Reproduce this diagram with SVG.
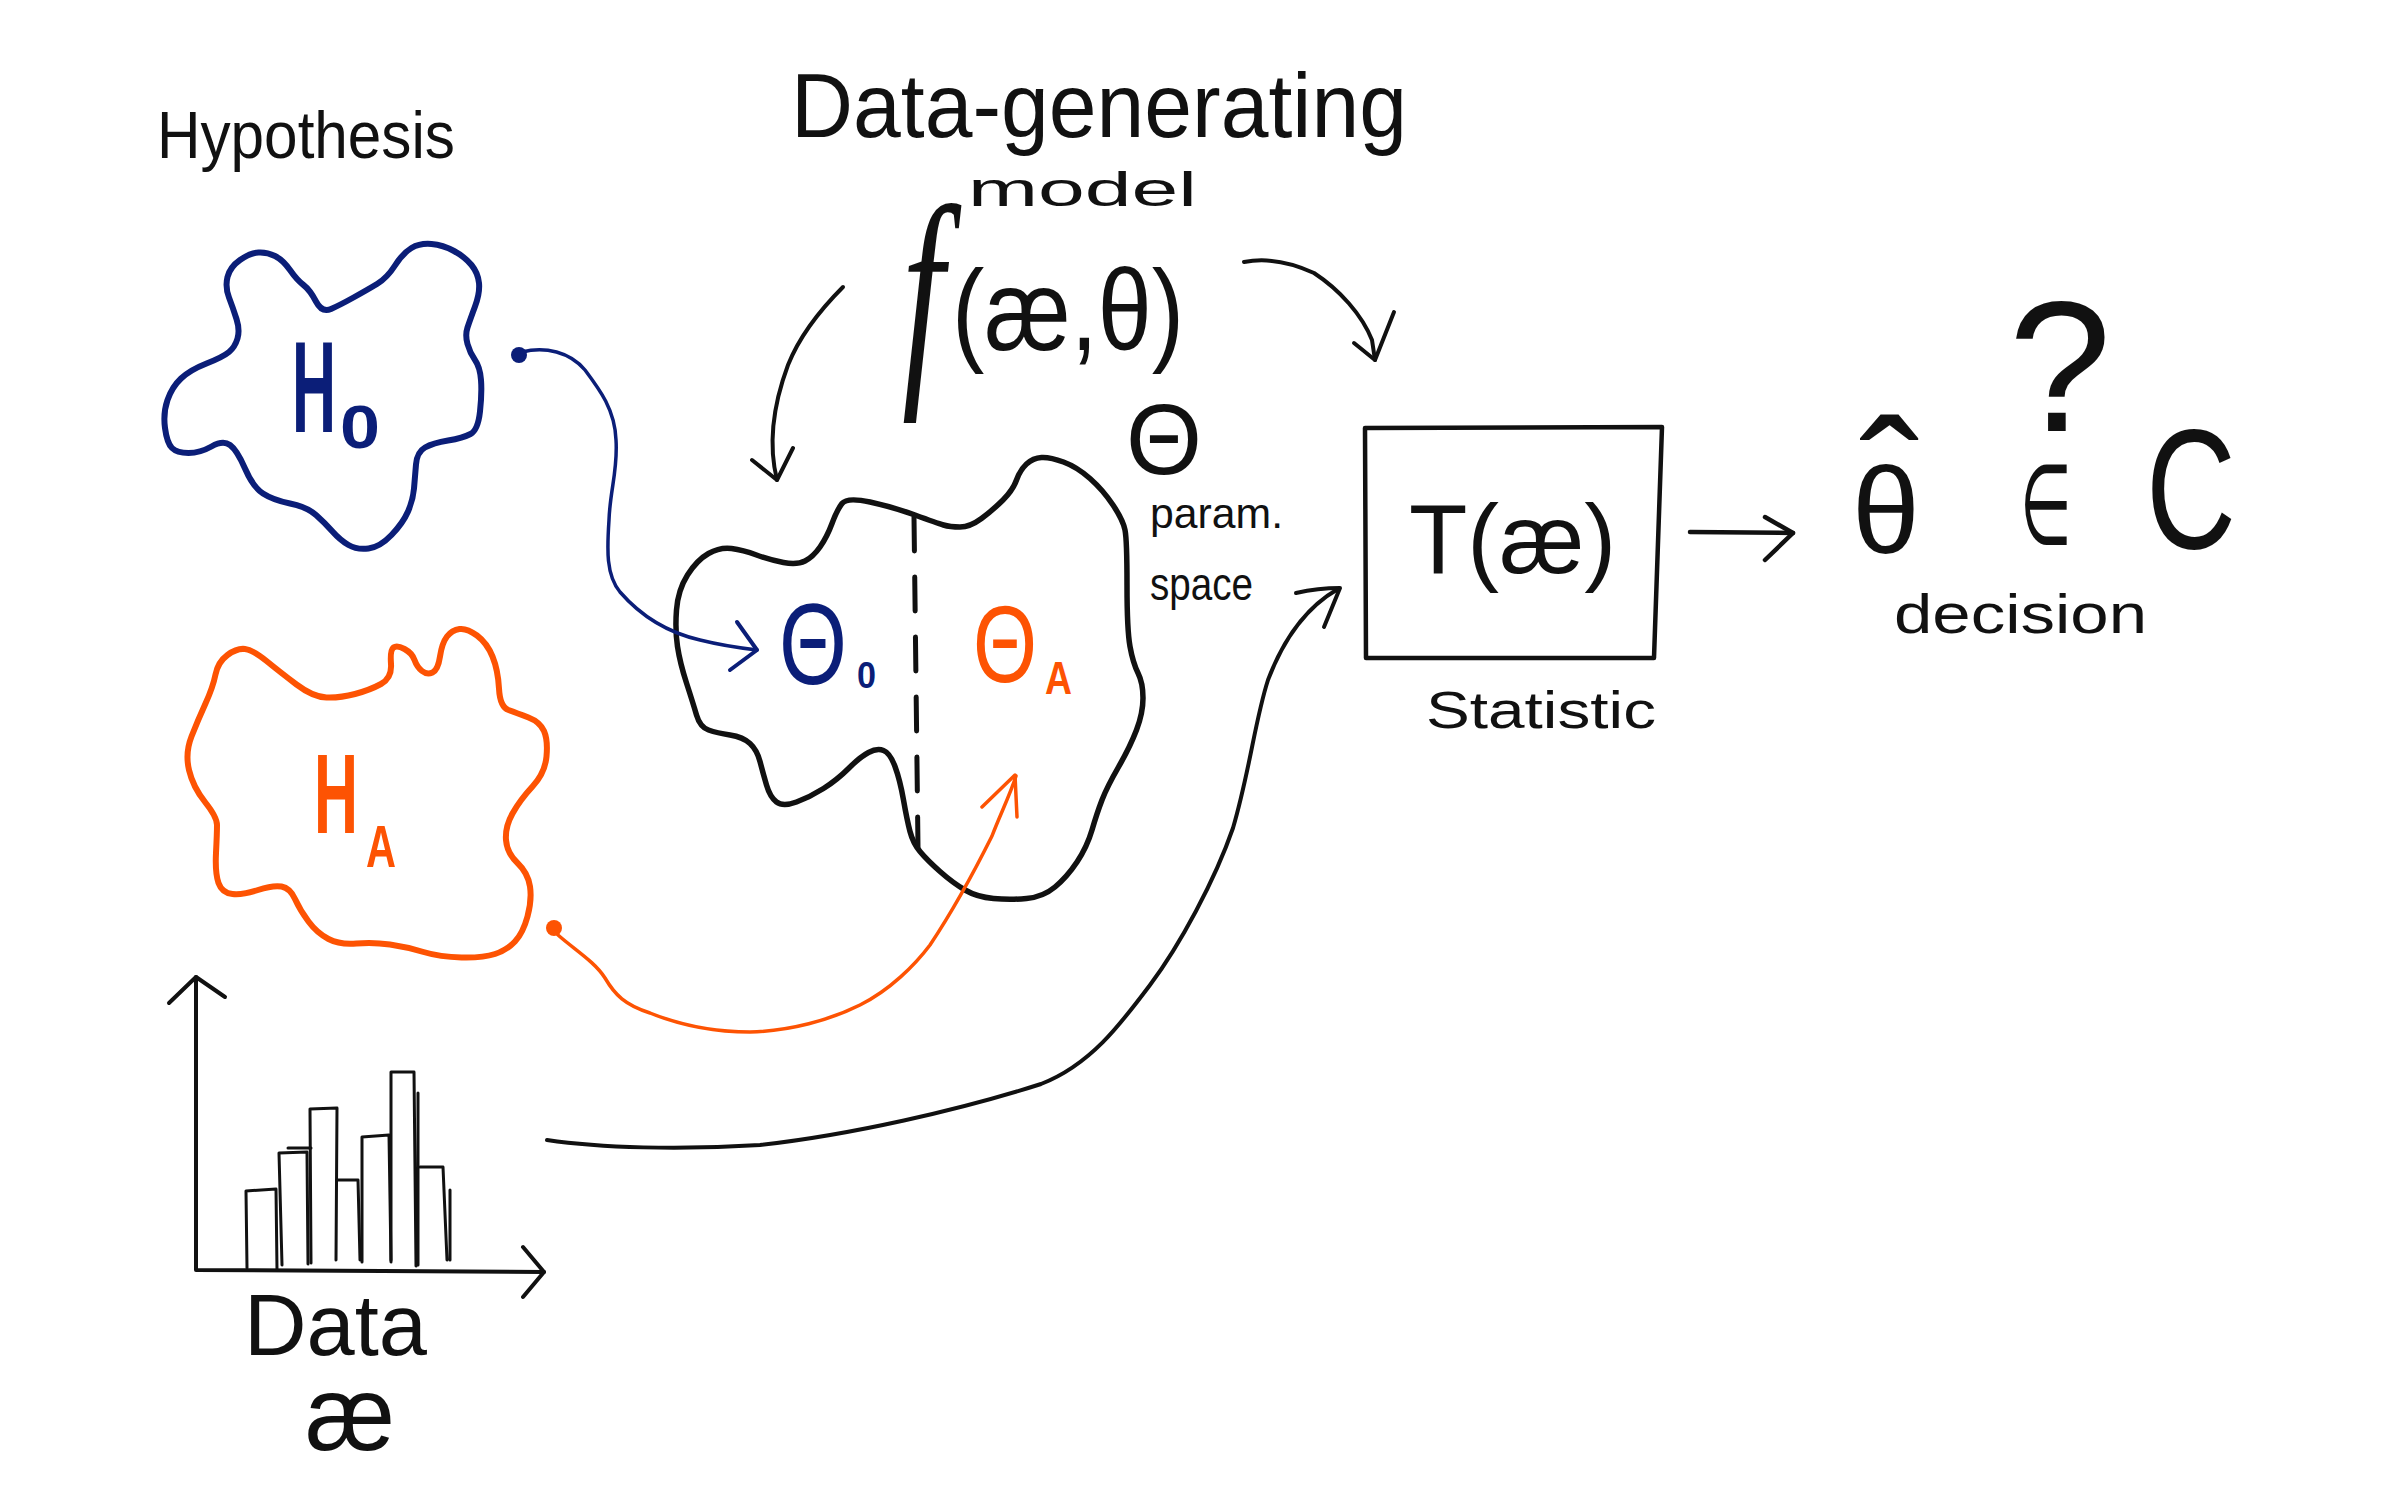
<svg xmlns="http://www.w3.org/2000/svg" width="2386" height="1491" viewBox="0 0 2386 1491">
<style>
  .t { font-family: "Liberation Sans", Arial, sans-serif; fill: #111; }
  .blue { fill: #0b1e78; }
  .orange { fill: #fd5303; }
  .ln { fill: none; stroke-linecap: round; stroke-linejoin: round; }
  .k { stroke: #111; }
  .bs { stroke: #0b1e78; }
  .os { stroke: #fd5303; }
</style>
<rect width="2386" height="1491" fill="#ffffff"/>

<g id="hypothesis-label">
  <text class="t" x="157" y="158" font-size="66" textLength="298" lengthAdjust="spacingAndGlyphs">Hypothesis</text>
</g>

<g id="node-h0">
  <path class="ln bs" stroke-width="6" d="M 275,256 Q 283,260 290,270 Q 297,280 303.5,285 Q 310,290 316,301.5 Q 322,313 331,309 Q 340,305 353.5,297.5 Q 367,290 377,284 Q 387,278 395,265.5 Q 403,253 411.5,248 Q 420,243 431.5,244 Q 443,245 454,251 Q 465,257 471.5,265 Q 478,273 479,283 Q 480,293 475,306.5 Q 470,320 467.5,327.5 Q 465,335 467.5,344 Q 470,353 475,360 Q 480,367 481,380 Q 482,393 480,411.5 Q 478,430 470.5,434 Q 463,438 448,440.5 Q 433,443 425,447.5 Q 417,452 416,464.5 Q 415,477 414,488.5 Q 413,500 408,511.5 Q 403,523 391.5,535 Q 380,547 368.5,548.5 Q 357,550 348.5,545 Q 340,540 332.5,531.5 Q 325,523 316,515 Q 307,507 290,503.5 Q 273,500 263,493.5 Q 253,487 245,468.5 Q 237,450 230,445 Q 223,440 211.5,446.5 Q 200,453 188.5,453 Q 177,453 172,448 Q 167,443 165,428 Q 163,413 167.5,400 Q 172,387 181,378.5 Q 190,370 206.5,363.5 Q 223,357 229,352 Q 235,347 237.5,338.5 Q 240,330 236.5,319 Q 233,308 229,297.5 Q 225,287 227.5,277 Q 230,267 240,260 Q 250,253 258.5,252.5 Q 267,252 275,256 Z"/>
  <text class="t blue" font-size="130" font-weight="bold"><tspan x="292" y="432" textLength="44" lengthAdjust="spacingAndGlyphs">H</tspan><tspan x="340" y="448" font-size="62" textLength="40" lengthAdjust="spacingAndGlyphs">0</tspan></text>
</g>

<g id="node-ha">
  <path class="ln os" stroke-width="6" d="M 215.5,674.5 Q 218,662 227.5,655 Q 237,648 245,649 Q 253,650 266.5,661 Q 280,672 296.5,684.5 Q 313,697 326.5,697.5 Q 340,698 355,694 Q 370,690 381,684 Q 392,678 391,664 Q 390,650 393.5,647.5 Q 397,645 404.5,649 Q 412,653 414.5,660 Q 417,667 422,671 Q 427,675 432.5,672.5 Q 438,670 440,656.5 Q 442,643 447,636.5 Q 452,630 459.5,629 Q 467,628 477,635.5 Q 487,643 492.5,656.5 Q 498,670 499,688.5 Q 500,707 508.5,710 Q 517,713 528.5,717.5 Q 540,722 544,731 Q 548,740 546.5,756.5 Q 545,773 532.5,786.5 Q 520,800 512.5,813.5 Q 505,827 506,840 Q 507,853 517.5,863 Q 528,873 530,886.5 Q 532,900 527.5,916.5 Q 523,933 515,941.5 Q 507,950 495,954 Q 483,958 461.5,957.5 Q 440,957 423.5,952 Q 407,947 390,944.5 Q 373,942 356.5,943.5 Q 340,945 328.5,939 Q 317,933 308.5,921.5 Q 300,910 295,899 Q 290,888 281.5,886.5 Q 273,885 258,890 Q 243,895 232.5,894 Q 222,893 218.5,883 Q 215,873 216,853 Q 217,833 217,825 Q 217,817 205,802 Q 193,787 189,770 Q 185,753 191.5,736.5 Q 198,720 205.5,703.5 Q 213,687 215.5,674.5 Z"/>
  <text class="t orange" font-size="114" font-weight="bold"><tspan x="314" y="833" textLength="44" lengthAdjust="spacingAndGlyphs">H</tspan><tspan x="366" y="867" font-size="60" textLength="30" lengthAdjust="spacingAndGlyphs">A</tspan></text>
</g>

<g id="node-data">
  <path class="ln k" stroke-width="4" d="M 196,977 L 196,1270 L 544,1272"/>
  <path class="ln k" stroke-width="4" d="M 169,1003 L 196,977 L 225,997"/>
  <path class="ln k" stroke-width="4" d="M 523,1247 L 544,1272 L 523,1297"/>
  <g class="ln k" stroke-width="3">
    <path d="M 247,1268 L 246,1191 L 276,1189 L 277,1270"/>
    <path d="M 282,1265 L 279,1153 L 307,1152 L 308,1264 M 288,1148 L 311,1148"/>
    <path d="M 311,1263 L 310,1109 L 337,1108 L 336,1260"/>
    <path d="M 337,1180 L 358,1180 L 360,1260"/>
    <path d="M 362,1262 L 362,1137 L 389,1135 L 391,1262"/>
    <path d="M 391,1260 L 391,1072 L 414,1072 L 416,1266 M 418,1093 L 418,1265"/>
    <path d="M 420,1167 L 443,1167 L 447,1260 M 450,1190 L 450,1260"/>
  </g>
  <text class="t" x="244" y="1355" font-size="88" textLength="183" lengthAdjust="spacingAndGlyphs">Data</text>
  <text class="t" x="305" y="1450" font-size="105" textLength="90" lengthAdjust="spacingAndGlyphs">æ</text>
</g>

<g id="model-label">
  <text class="t" x="791" y="137" font-size="90" textLength="616" lengthAdjust="spacingAndGlyphs">Data-generating</text>
  <text class="t" x="968" y="206" font-size="48" textLength="229" lengthAdjust="spacingAndGlyphs">model</text>
</g>

<g id="node-f">
  <text class="t" font-size="115"><tspan x="902" y="372" font-family="Liberation Serif, serif" font-style="italic" font-size="240" textLength="42" lengthAdjust="spacingAndGlyphs">f</tspan><tspan x="952" y="350" textLength="232" lengthAdjust="spacingAndGlyphs">(æ,θ)</tspan></text>
</g>

<g id="node-param-space">
  <path class="ln k" stroke-width="5.5" d="M 842,503.5 Q 847,497 870,502 Q 893,507 915,515 Q 937,523 943.5,525 Q 950,527 960,527 Q 970,527 981.5,518.5 Q 993,510 1003,500 Q 1013,490 1016.5,480 Q 1020,470 1026.5,464 Q 1033,458 1041.5,457.5 Q 1050,457 1063.5,462 Q 1077,467 1090,478.5 Q 1103,490 1113,505 Q 1123,520 1125,530 Q 1127,540 1127,585 Q 1127,630 1130,646.5 Q 1133,663 1138,673 Q 1143,683 1143,698 Q 1143,713 1136.5,730 Q 1130,747 1118.5,767 Q 1107,787 1102,800 Q 1097,813 1092,830 Q 1087,847 1077,862 Q 1067,877 1055,887 Q 1043,897 1026.5,898.5 Q 1010,900 993.5,898.5 Q 977,897 965,890 Q 953,883 940,871.5 Q 927,860 920,851.5 Q 913,843 910,831.5 Q 907,820 903.5,800 Q 900,780 895,766.5 Q 890,753 883.5,750.5 Q 877,748 868.5,752.5 Q 860,757 848.5,768.5 Q 837,780 823.5,788.5 Q 810,797 796.5,802 Q 783,807 776.5,802 Q 770,797 766.5,785 Q 763,773 760,761.5 Q 757,750 750,743.5 Q 743,737 730,735 Q 717,733 708.5,730 Q 700,727 696.5,715 Q 693,703 686.5,683 Q 680,663 677.5,646.5 Q 675,630 676.5,610 Q 678,590 687.5,575 Q 697,560 708.5,553.5 Q 720,547 731.5,548.5 Q 743,550 756.5,555 Q 770,560 783.5,562.5 Q 797,565 805,561 Q 813,557 820,547 Q 827,537 832,523.5 Q 837,510 842,503.5 Z"/>
  <path class="ln k" stroke-width="5" stroke-dasharray="34 26" d="M 914,517 L 918,847"/>
  <text class="t blue" font-size="115"><tspan x="779" y="684" textLength="68" lengthAdjust="spacingAndGlyphs">Θ</tspan><tspan x="857" y="688" font-size="36" font-weight="bold" textLength="19" lengthAdjust="spacingAndGlyphs">0</tspan></text>
  <text class="t orange" font-size="110"><tspan x="973" y="682" textLength="64" lengthAdjust="spacingAndGlyphs">Θ</tspan><tspan x="1045" y="694" font-size="46" font-weight="bold" textLength="27" lengthAdjust="spacingAndGlyphs">A</tspan></text>
  <text class="t" x="1126" y="474" font-size="100" textLength="76" lengthAdjust="spacingAndGlyphs">Θ</text>
  <text class="t" x="1150" y="528" font-size="42" textLength="133" lengthAdjust="spacingAndGlyphs">param.</text>
  <text class="t" x="1150" y="600" font-size="46" textLength="103" lengthAdjust="spacingAndGlyphs">space</text>
</g>

<g id="node-statistic">
  <path class="ln k" stroke-width="4.5" d="M 1365,428 L 1662,427 L 1654,658 L 1366,658 Z"/>
  <text class="t" x="1409" y="573" font-size="98" textLength="207" lengthAdjust="spacingAndGlyphs">T(æ)</text>
  <text class="t" x="1426" y="728" font-size="52" textLength="230" lengthAdjust="spacingAndGlyphs">Statistic</text>
</g>

<g id="node-decision">
  <text class="t" x="1852" y="553" font-size="122" font-family="DejaVu Sans, sans-serif">θ</text>
  <text class="t" x="1890" y="546" font-size="180" font-family="DejaVu Sans, sans-serif" text-anchor="middle">ˆ</text>
  <text class="t" x="2060" y="431" font-size="185" text-anchor="middle">?</text>
  <text class="t" x="2020" y="544" font-size="112" font-family="DejaVu Sans, sans-serif" textLength="52" lengthAdjust="spacingAndGlyphs">∈</text>
  <text class="t" x="2146" y="548" font-size="170" textLength="90" lengthAdjust="spacingAndGlyphs">C</text>
  <text class="t" x="1894" y="633" font-size="55" textLength="253" lengthAdjust="spacingAndGlyphs">decision</text>
</g>

<g id="connectors">
  <circle cx="519" cy="355" r="8" class="blue"/>
  <path class="ln bs" stroke-width="3.5" d="M 522,352 C 545,346 570,352 585,370 C 600,390 615,410 616,440 C 618,470 610,490 609,520 C 607,550 606,575 620,592 C 640,615 665,632 700,640 C 720,645 740,648 757,650"/>
  <path class="ln bs" stroke-width="4" d="M 737,622 L 757,650 L 730,670"/>

  <circle cx="554" cy="928" r="8" class="orange"/>
  <path class="ln os" stroke-width="3.5" d="M 558,935 C 575,950 595,962 605,978 C 615,995 625,1005 650,1013 C 680,1025 715,1032 750,1032 C 790,1031 830,1020 860,1005 C 890,990 915,965 930,945 C 950,915 975,870 992,836 C 1000,815 1010,795 1016,776"/>
  <path class="ln os" stroke-width="3.5" d="M 982,807 L 1015,775 L 1017,817"/>

  <path class="ln k" stroke-width="4" d="M 547,1140 C 600,1148 680,1150 760,1145 C 850,1135 960,1110 1041,1084 C 1090,1065 1120,1025 1150,985 C 1180,945 1215,880 1233,828 C 1250,770 1255,720 1268,680 C 1285,635 1310,605 1338,589"/>
  <path class="ln k" stroke-width="4" d="M 1296,593 Q 1318,588 1340,588 L 1324,627"/>

  <path class="ln k" stroke-width="4" d="M 843,287 C 820,310 800,335 788,365 C 775,400 767,440 777,480"/>
  <path class="ln k" stroke-width="4" d="M 752,460 L 777,480 L 793,448"/>

  <path class="ln k" stroke-width="4" d="M 1244,262 C 1265,258 1290,262 1314,273 C 1340,290 1362,315 1372,340 L 1375,360"/>
  <path class="ln k" stroke-width="4" d="M 1354,343 L 1375,360 L 1394,312"/>

  <path class="ln k" stroke-width="4.5" d="M 1690,532 L 1793,533"/>
  <path class="ln k" stroke-width="4.5" d="M 1765,517 L 1793,533 L 1765,560"/>
</g>
</svg>
